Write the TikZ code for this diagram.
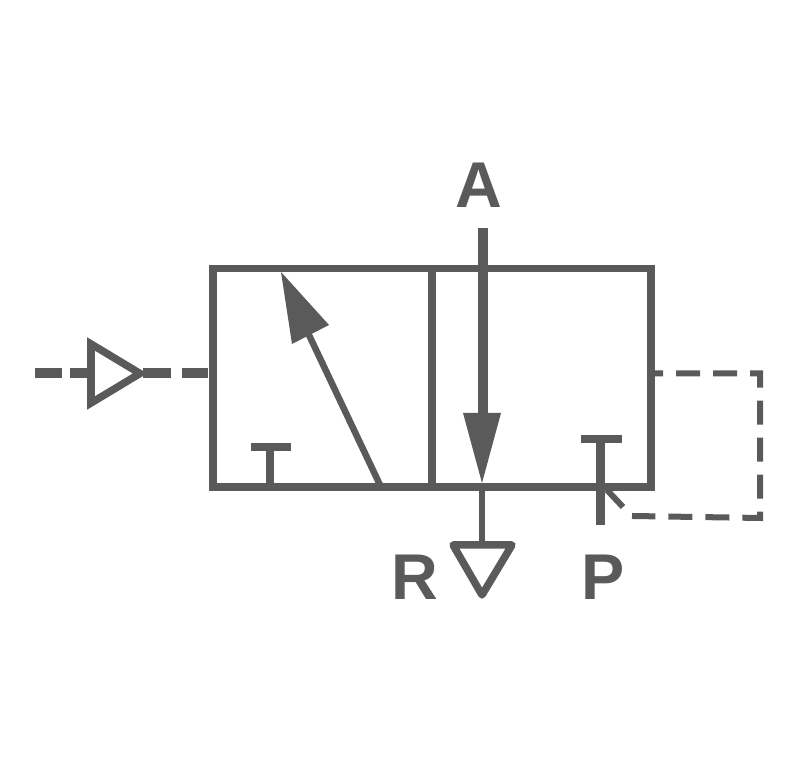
\documentclass[tikz,border=0pt]{standalone}
\usepackage{fontspec}
\setmainfont{Liberation Sans}
\definecolor{symbolgray}{HTML}{5A5A5A}
\tikzset{
  valveline/.style={draw=symbolgray,line width=0.75mm,line join=miter},
  pilotdash/.style={draw=symbolgray,line width=1mm},
  returndash/.style={draw=symbolgray,line width=0.6mm,dash pattern=on 2.4mm off 1.3mm,dash phase=1.2mm},
  portlabel/.style={text=symbolgray,inner sep=0pt,font=\fontsize{18.4pt}{18.4pt}\selectfont\bfseries},
}
\begin{document}
\begin{tikzpicture}[x=0.01cm,y=-0.01cm]
                \useasboundingbox (0,0) rectangle (800,768);
                % valve body
                \coordinate (nw) at (213,268.5);
                \coordinate (se) at (651,487);
                \coordinate (midtop) at (432,268.5);
                \coordinate (midbottom) at (432,487);
                \draw [valveline] (nw) rectangle (se);
                \draw [valveline] (midtop) -- (midbottom);
                % left cell
                \coordinate (slantfoot) at (380,485);
                \coordinate (slantneck) at (309,335);
                \coordinate (slanttip) at (281,272);
                \coordinate (slantwing1) at (329,325);
                \coordinate (slantwing2) at (292,344);
                \draw [valveline,line width=0.65mm] (slantfoot) -- (slantneck);
                \fill [symbolgray] (slanttip) -- (slantwing1) -- (slantwing2) -- cycle;
                \coordinate (lefttee) at (270,447);
                \coordinate (lefteefoot) at (270,487);
                \coordinate (leftbar1) at (251,447);
                \coordinate (leftbar2) at (291,447);
                \draw [valveline] (lefttee) -- (lefteefoot);
                \draw [valveline] (leftbar1) -- (leftbar2);
                % right cell, A to R
                \coordinate (flowtop) at (483,228);
                \coordinate (flowneck) at (483,414);
                \coordinate (flowtip) at (482,483);
                \coordinate (flowwing1) at (463,413);
                \coordinate (flowwing2) at (501,413);
                \draw [valveline,line width=1mm] (flowtop) -- (flowneck);
                \fill [symbolgray] (flowtip) -- (flowwing1) -- (flowwing2) -- cycle;
                \coordinate (drain) at (482,487);
                \coordinate (drainneck) at (482,545);
                \coordinate (drain1) at (453,545);
                \coordinate (drain2) at (512,545);
                \coordinate (drain3) at (482,595);
                \draw [valveline,line width=0.55mm] (drain) -- (drainneck);
                \draw [valveline,line join=round] (drain1) -- (drain2) -- (drain3) -- cycle;
                % port P
                \coordinate (righttee) at (600,439);
                \coordinate (righttefoot) at (600,525);
                \coordinate (rightbar1) at (581,439);
                \coordinate (rightbar2) at (622,439);
                \draw [valveline,line width=0.9mm] (righttee) -- (righttefoot);
                \draw [valveline] (rightbar1) -- (rightbar2);
                % pilot on the left
                \coordinate (pilotstart) at (35,373.5);
                \coordinate (pilotin) at (91,373.5);
                \coordinate (pilotout) at (143,373.5);
                \coordinate (pilotend) at (208,373.5);
                \coordinate (wedge1) at (91,344);
                \coordinate (wedge2) at (91,403);
                \coordinate (wedge3) at (140,373.5);
                \draw [pilotdash,dash pattern=on 2.7mm off 0.8mm] (pilotstart) -- (pilotin);
                \draw [pilotdash,dash pattern=on 2.8mm off 1.1mm] (pilotout) -- (pilotend);
                \draw [valveline] (wedge1) -- (wedge3) -- (wedge2) -- cycle;
                % return line on the right
                \coordinate (returnstart) at (651,373.5);
                \coordinate (returncorner1) at (760,373.5);
                \coordinate (returncorner2) at (760,518);
                \coordinate (returnend) at (632,516);
                \coordinate (kink1) at (607,490);
                \coordinate (kink2) at (623,507);
                \draw [returndash] (returnstart) -- (returncorner1) -- (returncorner2) -- (returnend);
                \draw [valveline,line width=0.6mm] (kink1) -- (kink2);
                % ports
                \node (A) [portlabel] at (479,185) {A};
                \node (R) [portlabel] at (415,577) {R};
                \node (P) [portlabel] at (603,577) {P};
            \end{tikzpicture}
\end{document}
